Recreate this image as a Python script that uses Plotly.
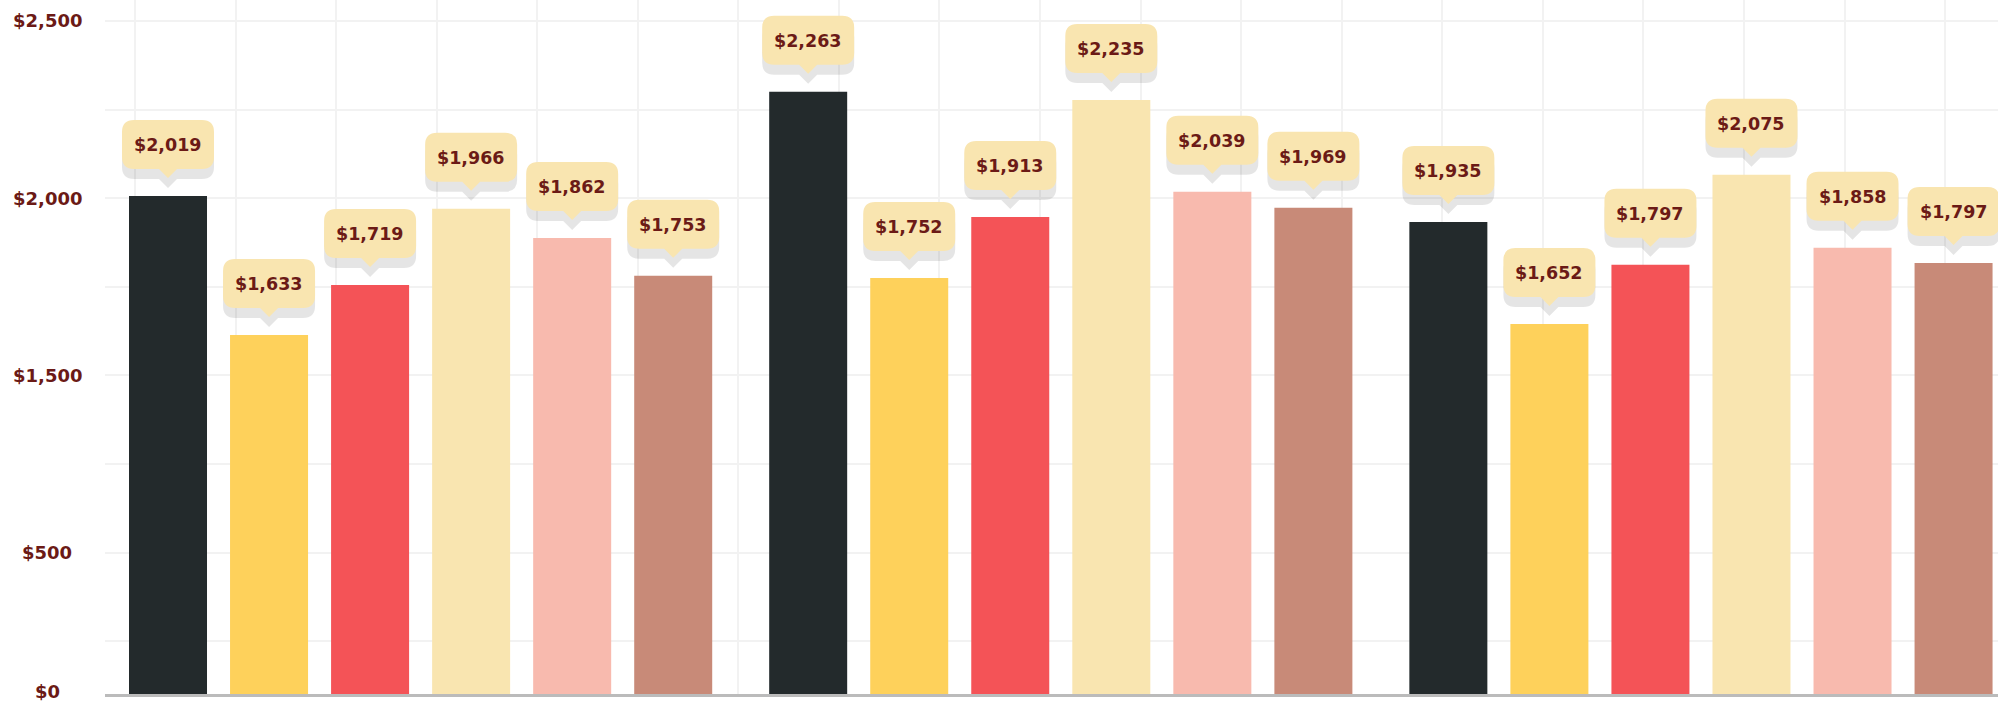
import plotly.graph_objects as go

# ---------------- data ----------------
groups = [0, 1, 2]
series_names = ["Series 1", "Series 2", "Series 3", "Series 4", "Series 5", "Series 6"]
series_colors = ["#232a2c", "#fed15b", "#f45357", "#f9e5b0", "#f8baae", "#c88a78"]

# bar heights (axis units)
s1_heights = [2006, 2300, 1933]
s2_heights = [1614, 1775, 1645]
s3_heights = [1755, 1947, 1812]
s4_heights = [1970, 2277, 2066]
s5_heights = [1888, 2018, 1860]
s6_heights = [1781, 1973, 1817]

# values printed in the bubbles
s1_labels = [2019, 2263, 1935]
s2_labels = [1633, 1752, 1652]
s3_labels = [1719, 1913, 1797]
s4_labels = [1966, 2235, 2075]
s5_labels = [1862, 2039, 1858]
s6_labels = [1753, 1969, 1797]

y_min = 601.5
y_max = 2559
grid_vals = [750, 1000, 1250, 1500, 1750, 2000, 2250, 2500]
ytick_vals = [2500, 2000, 1500, 1000, y_min]
ytick_text = ["$2,500", "$2,000", "$1,500", "$500", "$0"]

heights = [s1_heights, s2_heights, s3_heights, s4_heights, s5_heights, s6_heights]
labels = [s1_labels, s2_labels, s3_labels, s4_labels, s5_labels, s6_labels]

# ---------------- styling ----------------
TEXT_COLOR = "#6b1a16"
GRID_COLOR = "#f2f2f2"
BUBBLE_COLOR = "#f9e5b0"
FONT = "DejaVu Sans"
BARGAP = 0.053
BARGROUPGAP = 0.228
n_series = len(series_names)
slot = (1 - BARGAP) / n_series

fig = go.Figure()
for name, color, h in zip(series_names, series_colors, heights):
    fig.add_trace(go.Bar(x=groups, y=h, name=name, marker=dict(color=color, line=dict(width=0)),
                         hoverinfo="skip"))


def bubble_path(dy):
    L, R, B, T = -46, 46, 27 + dy, 76 + dy
    r = 12
    tip = 18 + dy
    pw = 9
    return (f"M{L + r},{T} L{R - r},{T} Q{R},{T} {R},{T - r} L{R},{B + r} "
            f"Q{R},{B} {R - r},{B} L{pw},{B} L0,{tip} L{-pw},{B} L{L + r},{B} "
            f"Q{L},{B} {L},{B + r} L{L},{T - r} Q{L},{T} {L + r},{T} Z")


shapes = []
annotations = []
for i in range(n_series):
    for g, (h, lab) in enumerate(zip(heights[i], labels[i])):
        xc = groups[g] + (i - (n_series - 1) / 2) * slot
        for dy, col in ((-10, "rgba(0,0,0,0.1)"), (0, BUBBLE_COLOR)):
            shapes.append(dict(type="path", xref="x", yref="y", xsizemode="pixel", ysizemode="pixel",
                               xanchor=xc, yanchor=h, path=bubble_path(dy), fillcolor=col,
                               line=dict(width=0), layer="above"))
        annotations.append(dict(x=xc, y=h, xref="x", yref="y", yshift=51, showarrow=False,
                                xanchor="center", yanchor="middle", text=f"${lab:,}",
                                font=dict(family=FONT, size=17.5, color=TEXT_COLOR, weight="bold")))

for v, t in zip(ytick_vals, ytick_text):
    annotations.append(dict(x=-0.0306, y=v, xref="paper", yref="y", showarrow=False,
                            xanchor="center", yanchor="middle", text=t,
                            yshift=3 if v == y_min else 0,
                            font=dict(family=FONT, size=18, color=TEXT_COLOR, weight="bold")))

fig.update_layout(
    width=2015, height=703,
    margin=dict(l=105, r=17, t=0, b=9),
    paper_bgcolor="white", plot_bgcolor="white",
    barmode="group", bargap=BARGAP, bargroupgap=BARGROUPGAP,
    showlegend=False,
    shapes=shapes, annotations=annotations,
    xaxis=dict(range=[-0.493, 2.464], tickmode="linear", tick0=-0.4461, dtick=0.15708,
               showgrid=True, gridcolor=GRID_COLOR, gridwidth=2, showticklabels=False,
               ticks="", zeroline=False, showline=True, linecolor="#bbbbbb", linewidth=3),
    yaxis=dict(range=[y_min, y_max], tickmode="array", tickvals=grid_vals,
               showgrid=True, gridcolor=GRID_COLOR, gridwidth=2, showticklabels=False,
               ticks="", zeroline=False, showline=False),
)

fig.write_html("out.html", config={"displayModeBar": False},
               post_script="document.body.style.margin='0';document.body.style.overflow='hidden';")
